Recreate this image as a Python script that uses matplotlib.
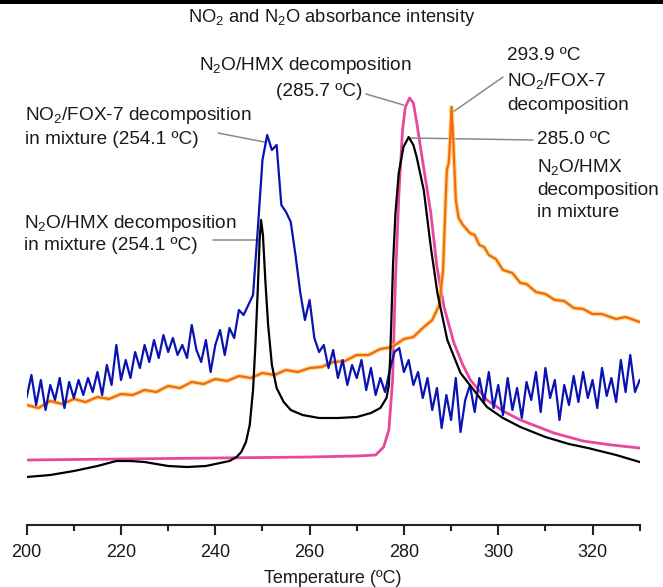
import numpy as np
import matplotlib.pyplot as plt
from matplotlib.patches import Rectangle
from matplotlib.ticker import MultipleLocator
import matplotlib.patheffects as pe

plt.rcParams['font.family'] = ['Liberation Sans', 'DejaVu Sans']
plt.rcParams['mathtext.default'] = 'regular'

# Data (arbitrary absorbance units)
blue_t = np.arange(200, 331)
blue_i = [128, 150, 120, 145, 115, 140, 125, 147, 117, 143,
          127, 145, 130, 147, 133, 153, 130, 160, 140, 180,
          145, 165, 147, 173, 157, 180, 163, 185, 167, 190,
          173, 187, 170, 180, 167, 200, 175, 163, 185, 153,
          180, 195, 170, 197, 187, 215, 210, 220, 230, 295,
          365, 390, 375, 380, 320, 313, 303, 270, 233, 205,
          225, 187, 173, 180, 157, 175, 147, 165, 140, 160,
          147, 165, 135, 157, 130, 147, 133, 155, 173, 177,
          153, 165, 140, 153, 127, 147, 115, 137, 97, 130,
          105, 147, 93, 125, 140, 113, 147, 123, 153, 117,
          140, 110, 147, 115, 137, 107, 143, 125, 153, 113,
          157, 127, 145, 105, 140, 120, 149, 123, 153, 127,
          145, 117, 157, 129, 147, 123, 165, 133, 170, 133,
          145]

black_t = [200, 205, 210, 215, 219, 222, 225, 230, 234, 238, 241, 243,
           244.5, 245.5, 246.5, 247.3, 248, 248.5, 249, 249.4, 249.7,
           250.1, 250.6, 251.2, 252, 253, 254.5, 256, 258.5, 262, 266,
           270, 273, 275, 276.3, 276.8, 277.1, 277.4, 277.7, 278.2, 278.9,
           279.9, 281, 282, 282.7, 284.2, 285.7, 287.1, 289.2, 292, 294.8,
           297.6, 301, 304.7, 310, 315, 319, 325, 330]
black_i = [48, 50, 54, 59, 64, 64, 63, 59, 58, 59, 62, 64,
           68, 73, 83, 100, 135, 180, 235, 285, 305,
           290, 245, 200, 160, 137, 123, 115, 110, 107, 107,
           108, 112, 117, 127, 140, 170, 215, 262, 312, 352,
           378, 388, 380, 368, 335, 278, 232, 185, 152, 135,
           118, 107, 98, 88, 81, 77, 70, 63]

pink_t = [200, 220, 240, 260, 270, 274, 275.7, 276.8, 277.6, 278.2,
          278.9, 279.7, 280.3, 281.2, 282.0, 282.8, 283.5, 284.6, 285.7,
          287.0, 288.5, 290.6, 292.5, 294.1, 297.6, 301, 304.7, 311.8,
          318, 324, 330]
pink_i = [65, 66, 67, 68, 69, 70, 78, 95, 145, 245,
          328, 395, 418, 427, 422, 400, 378, 345, 312,
          258, 218, 182, 160, 145, 125, 114, 105, 92,
          84, 80, 77]

orange_t = [200, 202.5, 205, 207.5, 210, 212.5, 215, 217.5, 220, 222.5,
            225, 227.5, 230, 232.5, 235, 237.5, 240, 242.5, 245, 247.5,
            250, 252.5, 255, 257.5, 260, 262.5, 265, 267.5, 270, 272.5,
            275, 277.5, 280, 282, 284, 286, 287.5, 288.3, 288.8, 289.1,
            289.5, 289.8, 290.1, 290.5, 291, 291.6, 292.5, 294, 295, 296,
            297, 298, 299.5, 301, 303, 304.7, 306, 308, 310, 312,
            314, 316, 318, 320, 322, 325, 327, 330]
orange_i = [120, 117, 124, 121, 126, 123, 128, 126, 131, 130,
            135, 133, 139, 137, 143, 141, 146, 144, 149, 147,
            152, 150, 155, 153, 157, 158, 163, 164, 170, 170,
            176, 178, 186, 188, 197, 205, 220, 255, 320, 355,
            362, 385, 418, 380, 325, 307, 300, 292, 290, 280,
            278, 270, 266, 255, 252, 242, 241, 233, 231, 225,
            224, 217, 216, 211, 211, 206, 208, 203]

W, H = 663, 587
fig = plt.figure(figsize=(W / 100, H / 100), dpi=100)
ax = fig.add_axes([26.7 / W, 62 / H, 613 / W, 495 / H])

ax.plot(pink_t, pink_i, color='#e8489c', lw=2.0, zorder=3)
ax.plot(orange_t, orange_i, color='#f26a0c', lw=1.6, zorder=4,
        path_effects=[pe.Stroke(linewidth=3.2, foreground='#ffc860', alpha=0.7), pe.Normal()])
ax.plot(blue_t, blue_i, color='#0a12b0', lw=1.6, zorder=5)
ax.plot(black_t, black_i, color='black', lw=1.6, zorder=6)

ax.set_xlim(200, 330)
ax.set_ylim(0, 495)
for s in ['left', 'right', 'top']:
    ax.spines[s].set_visible(False)
ax.spines['bottom'].set_linewidth(1.5)
ax.spines['bottom'].set_color('#222222')
ax.set_yticks([])
ax.set_xticks([200, 220, 240, 260, 280, 300, 320])
ax.xaxis.set_minor_locator(MultipleLocator(10))
ax.tick_params(axis='x', which='major', direction='out', length=7, width=1.5,
               color='#222222', labelsize=13, pad=7, labelcolor='#1a1a1a')
ax.tick_params(axis='x', which='minor', direction='out', length=4, width=1.5,
               color='#222222')
ax.set_xlabel('Temperature (ºC)', fontsize=13, color='#1a1a1a', labelpad=6)

# thin black bar at the very top of the picture
fig.patches.append(Rectangle((0, 1 - 4 / H), 1, 4 / H, transform=fig.transFigure,
                             facecolor='black', edgecolor='none'))


def fp(x, y):
    # pixel position (from top-left) to figure fraction
    return (x / W, 1 - y / H)


def put(lines, x, ys, ha='left'):
    for s, y in zip(lines, ys):
        fig.text(*fp(x, y), s, fontsize=13.7, color='#1a1a1a', ha=ha, va='center')


fig.text(*fp(332, 17), 'NO$_2$ and N$_2$O absorbance intensity', fontsize=13.2,
         color='#1a1a1a', ha='center', va='center')

put(['NO$_2$/FOX-7 decomposition', 'in mixture (254.1 ºC)'], 25, [116, 139])
put(['N$_2$O/HMX decomposition', 'in mixture (254.1 ºC)'], 24, [223, 246])
put(['N$_2$O/HMX decomposition'], 305, [66], ha='center')
put(['(285.7 ºC)'], 319, [91], ha='center')
put(['293.9 ºC', 'NO$_2$/FOX-7', 'decomposition'], 507, [55, 81, 105])
put(['285.0 ºC', 'N$_2$O/HMX', 'decomposition', 'in mixture'], 537, [140, 167, 191, 213])

lk = dict(arrowprops=dict(arrowstyle='-', color='#8a8a8a', lw=1.1,
                          shrinkA=0, shrinkB=0),
          xycoords='data', textcoords='figure fraction')
ax.annotate('', xy=(250.4, 383), xytext=fp(218, 133), **lk)
ax.annotate('', xy=(249.2, 285), xytext=fp(213, 240), **lk)
ax.annotate('', xy=(279.9, 420), xytext=fp(366, 94), **lk)
ax.annotate('', xy=(290.4, 413), xytext=fp(503, 77), **lk)
ax.annotate('', xy=(281.2, 387), xytext=fp(533, 140), **lk)

fig.savefig('out.png', dpi=100)
